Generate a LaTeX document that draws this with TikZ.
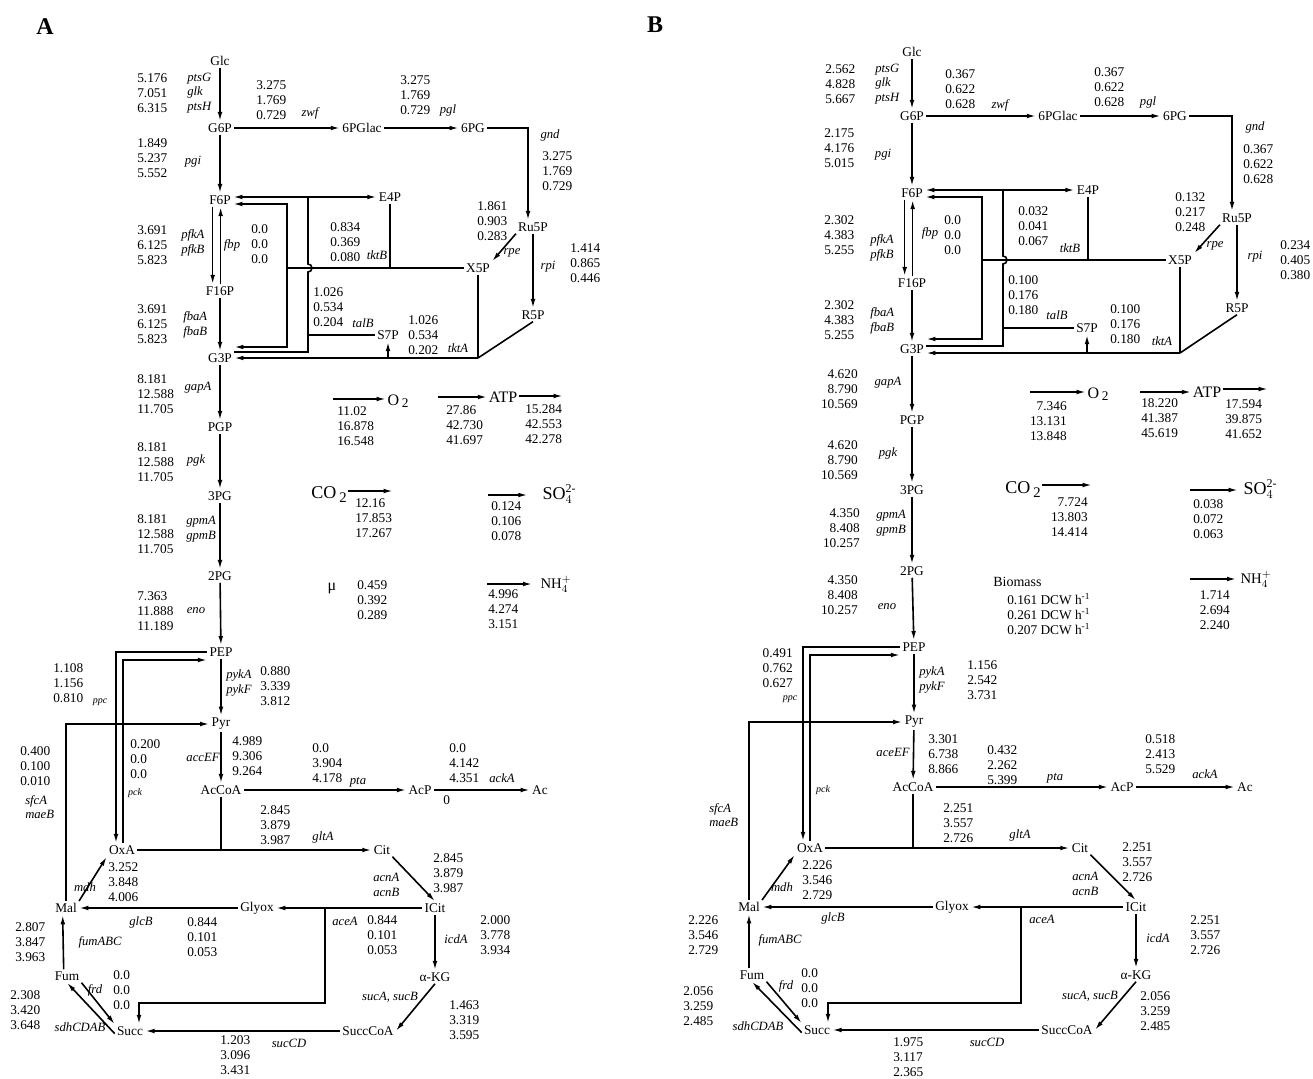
\documentclass[tikz,border=0pt]{standalone}
\usepackage{fontspec}
\setmainfont{Liberation Serif}
\usepackage{tikz}
\usetikzlibrary{arrows.meta,positioning,calc}

\begin{document}
\begin{tikzpicture}[
    x=0.75pt, y=-0.75pt,
    met/.style={font=\fontsize{10}{12}\selectfont, inner sep=1.5pt},
    num/.style={font=\fontsize{10}{11.25}\selectfont, align=left, anchor=west, inner sep=0pt},
    numr/.style={num, align=right, anchor=east},
    gene/.style={font=\fontsize{9.5}{11}\selectfont\itshape, inner sep=0pt},
    genes/.style={gene, align=left, anchor=west},
    tinygene/.style={font=\fontsize{7.5}{9}\selectfont\itshape, inner sep=0pt},
    ext/.style={font=\fontsize{12}{14}\selectfont, inner sep=1pt},
    panel/.style={font=\fontsize{18}{20}\selectfont\bfseries},
    flux/.style={-{Latex[length=7pt,width=3.5pt]}, line width=1.2pt},
    twoway/.style={{Latex[length=7pt,width=3.5pt]}-{Latex[length=7pt,width=3.5pt]}, line width=1.2pt},
    link/.style={line width=1.2pt}
]
\useasboundingbox (0,0) rectangle (1313,1078);

% ================= panel A =================
\node[panel] (labA) at (45,27) {A};
\begin{scope}[name prefix=a-]
% metabolites
\node[met] (Glc) at (220,61) {Glc};
\node[met] (G6P) at (220,128) {G6P};
\node[met] (PGlac) at (362,128) {6PGlac};
\node[met] (PG6) at (473,128) {6PG};
\node[met] (Ru5P) at (533,227) {Ru5P};
\node[met] (X5P) at (478,268) {X5P};
\node[met] (R5P) at (533,315) {R5P};
\node[met] (E4P) at (390,197) {E4P};
\node[met] (S7P) at (388,335) {S7P};
\node[met] (F6P) at (220,200) {F6P};
\node[met] (F16P) at (220,291) {F16P};
\node[met] (G3P) at (220,358) {G3P};
\node[met] (PGP) at (220,427) {PGP};
\node[met] (PG3) at (220,496) {3PG};
\node[met] (PG2) at (220,576) {2PG};
\node[met] (PEP) at (221,652) {PEP};
\node[met] (Pyr) at (221,724) {Pyr};
\node[met] (AcCoA) at (221,790) {AcCoA};
\node[met] (AcP) at (420,790) {AcP};
\node[met] (Ac) at (540,790) {Ac};
\node[met] (OxA) at (122,850) {OxA};
\node[met] (Cit) at (382,850) {Cit};
\node[met] (ICit) at (435,908) {ICit};
\node[met] (aKG) at (435,977) {α-KG};
\node[met] (SuccCoA) at (368,1031) {SuccCoA};
\node[met] (Succ) at (130,1031) {Succ};
\node[met] (Fum) at (67,976) {Fum};
\node[met] (Mal) at (66,908) {Mal};
\node[met] (Glyox) at (257,908) {Glyox};
\coordinate (tkB) at (287,268);
\coordinate (tlB) at (308,197);
\coordinate (tkA) at (478,358);
\coordinate (ppcC) at (116,652);
\coordinate (pckC) at (123,660);
\coordinate (aceC) at (325,908);
\coordinate (aceD) at (325,1003);

% glycolysis and pentose phosphate
\draw[flux] (Glc) -- (G6P);
\draw[flux] (G6P) -- (PGlac);
\draw[flux] (PGlac) -- (PG6);
\draw[flux] (PG6.east) -| ([xshift=-3.75pt]Ru5P.north);
\draw[flux] (Ru5P.south west) -- (X5P.north east);
\draw[flux] (Ru5P) -- (R5P);
\draw[flux] (G6P) -- (F6P);
\draw[flux] ([xshift=-5.5pt]F6P.south) -- ([xshift=-5.5pt]F16P.north);
\draw[flux] ([xshift=0.5pt]F16P.north) -- ([xshift=0.5pt]F6P.south);
\draw[flux] (F16P) -- (G3P);
\draw[twoway] ([yshift=2.25pt]F6P.east) -- (E4P.west);
\draw[twoway] ([yshift=-3pt]F6P.east) -| (tkB) |- ([yshift=8.25pt]G3P.east);
\draw[link] (tkB) -- (X5P.west);
\draw[link] (E4P.south) -- (E4P.south |- tkB);
\draw[link] (tlB) -- ++(0,67) arc[start angle=90,end angle=-90,radius=3pt] |- ([yshift=4.5pt]G3P.east);
\draw[link] (S7P.west -| tlB) -- (S7P.west);
\draw[link] (X5P.south) -- (tkA);
\draw[link] (R5P.south) -- (tkA);
\draw[flux] (tkA) -- (tkA -| G3P.east);
\draw[flux] (S7P.south |- tkA) -- (S7P.south);
\draw[flux] (G3P) -- (PGP);
\draw[flux] (PGP) -- (PG3);
\draw[flux] (PG3) -- (PG2);
\draw[flux] (PG2) -- (PEP);
\draw[flux] (PEP) -- (Pyr);
\draw[flux] (Pyr) -- (AcCoA);
\draw[flux] (PEP.west) -- (ppcC) -- (ppcC |- OxA.north);
\draw[flux] (pckC |- OxA.north) -- (pckC) -- (pckC -| PEP.west);
\draw[flux] (Mal.north) |- (Pyr.west);
% acetate and TCA cycle
\draw[flux] (AcCoA.east) -- (AcP.west);
\draw[flux] (AcP.east) -- (Ac.west);
\draw[link] (AcCoA.south) -- (AcCoA.south |- OxA.east);
\draw[flux] (OxA.east) -- (Cit.west);
\draw[flux] (Cit.south east) -- (ICit.north);
\draw[flux] (ICit.west) -- (Glyox.east);
\draw[flux] (aceC) -- (aceD) -| ([xshift=6.75pt]Succ.north);
\draw[flux] (Glyox.west) -- (Mal.east);
\draw[flux] (Mal.north east) -- (OxA.south west);
\draw[flux] (ICit) -- (aKG);
\draw[flux] (aKG.south) -- (SuccCoA.east);
\draw[flux] (SuccCoA.west) -- (Succ.east);
\draw[flux] ([xshift=-2.5pt]Fum.north) -- ([xshift=-2.5pt]Mal.south);
\draw[flux] (Fum.south east) -- (Succ.north west);
\draw[flux] ([yshift=-2pt]Succ.west) -- (Fum.south);

% fluxes and genes
\node[num] (vPts) at (137,93) {5.176\\7.051\\6.315};
\node[genes] (gPts) at (187,93) {ptsG\\glk\\ptsH};
\node[num] (vZwf) at (256,100) {3.275\\1.769\\0.729};
\node[gene] (gZwf) at (310,113) {zwf};
\node[num] (vPgl) at (400,95) {3.275\\1.769\\0.729};
\node[gene] (gPgl) at (448,110) {pgl};
\node[gene] (gGnd) at (550,135) {gnd};
\node[num] (vGnd) at (542,171) {3.275\\1.769\\0.729};
\node[num] (vRpe) at (477,221) {1.861\\0.903\\0.283};
\node[gene] (gRpe) at (512,253) {rpe};
\node[gene] (gRpi) at (548,267) {rpi};
\node[num] (vRpi) at (570,263) {1.414\\0.865\\0.446};
\node[num] (vPgi) at (137,158) {1.849\\5.237\\5.552};
\node[gene] (gPgi) at (193,162) {pgi};
\node[num] (vPfk) at (137,245) {3.691\\6.125\\5.823};
\node[genes] (gPfk) at (181,243) {pfkA\\pfkB};
\node[gene] (gFbp) at (232,245) {fbp};
\node[num] (vFbp) at (251,244) {0.0\\0.0\\0.0};
\node[num] (vTktB) at (330,242) {0.834\\0.369\\0.080};
\node[gene] (gTktB) at (377,255) {tktB};
\node[num] (vTalB) at (313,307) {1.026\\0.534\\0.204};
\node[gene] (gTalB) at (363,323) {talB};
\node[num] (vTktA) at (408,335) {1.026\\0.534\\0.202};
\node[gene] (gTktA) at (458,348) {tktA};
\node[num] (vFba) at (137,324) {3.691\\6.125\\5.823};
\node[genes] (gFba) at (183,325) {fbaA\\fbaB};
\node[num] (vGap) at (137,394) {8.181\\12.588\\11.705};
\node[gene] (gGap) at (198,388) {gapA};
\node[num] (vPgk) at (137,462) {8.181\\12.588\\11.705};
\node[gene] (gPgk) at (196,460) {pgk};
\node[num] (vGpm) at (137,534) {8.181\\12.588\\11.705};
\node[genes] (gGpm) at (186,529) {gpmA\\gpmB};
\node[num] (vEno) at (137,611) {7.363\\11.888\\11.189};
\node[gene] (gEno) at (196,611) {eno};
\node[num] (vPpc) at (53,683) {1.108\\1.156\\0.810};
\node[tinygene] (gPpc) at (100,702) {ppc};
\node[genes] (gPyk) at (226,683) {pykA\\pykF};
\node[num] (vPyk) at (260,686) {0.880\\3.339\\3.812};
\node[num] (vMae) at (20,766) {0.400\\0.100\\0.010};
\node[genes] (gMae) at (25,807) {sfcA\\maeB};
\node[num] (vPck) at (130,759) {0.200\\0.0\\0.0};
\node[tinygene] (gPck) at (135,793) {pck};
\node[gene] (gAce) at (203,757) {accEF};
\node[num] (vAce) at (232,756) {4.989\\9.306\\9.264};
\node[num] (vPta) at (312,763) {0.0\\3.904\\4.178};
\node[gene] (gPta) at (358,782) {pta};
\node[num] (vAck) at (449,763) {0.0\\4.142\\4.351};
\node[gene] (gAck) at (502,778) {ackA};
\node[num] (vZero) at (443,800) {0};
\node[num] (vGlt) at (260,825) {2.845\\3.879\\3.987};
\node[gene] (gGlt) at (323,837) {gltA};
\node[num] (vMdh) at (108,882) {3.252\\3.848\\4.006};
\node[gene] (gMdh) at (85,887) {mdh};
\node[gene] (gGlcB) at (141,922) {glcB};
\node[num] (vGlcB) at (187,937) {0.844\\0.101\\0.053};
\node[gene] (gAceA) at (345,921) {aceA};
\node[num] (vAceA) at (367,935) {0.844\\0.101\\0.053};
\node[num] (vAcn) at (433,873) {2.845\\3.879\\3.987};
\node[genes] (gAcn) at (373,885) {acnA\\acnB};
\node[gene] (gIcd) at (456,939) {icdA};
\node[num] (vIcd) at (480,935) {2.000\\3.778\\3.934};
\node[gene] (gSucAB) at (390,997) {sucA, sucB};
\node[num] (vSucAB) at (449,1020) {1.463\\3.319\\3.595};
\node[gene] (gSucCD) at (289,1043) {sucCD};
\node[num] (vSucCD) at (220,1055) {1.203\\3.096\\3.431};
\node[num] (vFum) at (15,942) {2.807\\3.847\\3.963};
\node[gene] (gFum) at (100,942) {fumABC};
\node[gene] (gFrd) at (95,990) {frd};
\node[num] (vFrd) at (113,990) {0.0\\0.0\\0.0};
\node[num] (vSdh) at (10,1010) {2.308\\3.420\\3.648};
\node[gene] (gSdh) at (80,1027) {sdhCDAB};

% exchange fluxes
\coordinate (o2in) at (333,399);
\node[ext, anchor=west] (O2) at (386,401) {O\,\raisebox{-1.5pt}{\fontsize{10}{12}\selectfont 2}};
\draw[flux] (o2in) -- (o2in -| O2.west);
\node[num] (vO2) at (337,426) {11.02\\16.878\\16.548};
\coordinate (atpin) at (438,397);
\coordinate (atpout) at (563,396);
\node[ext] (ATP) at (503,397) {ATP};
\draw[flux] (atpin) -- (atpin -| ATP.west);
\draw[flux] (ATP.east |- atpout) -- (atpout);
\node[num] (vAtpIn) at (446,425) {27.86\\42.730\\41.697};
\node[num] (vAtpOut) at (525,424) {15.284\\42.553\\42.278};
\coordinate (co2out) at (393,491);
\node[ext, font=\fontsize{13.5}{15}\selectfont] (CO2) at (329,495) {CO\,\raisebox{-3pt}{\fontsize{11}{12}\selectfont 2}};
\draw[flux] (CO2.east |- co2out) -- (co2out);
\node[num] (vCO2) at (355,518) {12.16\\17.853\\17.267};
\coordinate (so4in) at (488,495);
\node[ext, anchor=west, font=\fontsize{13.5}{15}\selectfont] (SO4) at (541,494) {SO$_4^{\mbox{\fontsize{9}{10}\selectfont 2-}}$};
\draw[flux, shorten >=10pt] (so4in) -- (so4in -| SO4.west);
\node[num] (vSO4) at (491,521) {0.124\\0.106\\0.078};
\node[ext] (mu) at (332,589) {μ};
\node[num] (vMu) at (357,600) {0.459\\0.392\\0.289};
\coordinate (nh4in) at (487,584);
\node[ext, anchor=west, font=\fontsize{11}{13}\selectfont] (NH4) at (539,584) {NH$_4^{+}$};
\draw[flux, shorten >=5pt] (nh4in) -- (nh4in -| NH4.west);
\node[num] (vNH4) at (488,609) {4.996\\4.274\\3.151};
\end{scope}

% ================= panel B =================
\node[panel] (labB) at (655,25) {B};
\begin{scope}[name prefix=b-]
% metabolites
\node[met] (Glc) at (912,52) {Glc};
\node[met] (G6P) at (912,116) {G6P};
\node[met] (PGlac) at (1058,116) {6PGlac};
\node[met] (PG6) at (1175,116) {6PG};
\node[met] (Ru5P) at (1237,218) {Ru5P};
\node[met] (X5P) at (1180,260) {X5P};
\node[met] (R5P) at (1237,308) {R5P};
\node[met] (E4P) at (1088,190) {E4P};
\node[met] (S7P) at (1087,328) {S7P};
\node[met] (F6P) at (912,193) {F6P};
\node[met] (F16P) at (912,283) {F16P};
\node[met] (G3P) at (912,349) {G3P};
\node[met] (PGP) at (912,420) {PGP};
\node[met] (PG3) at (912,490) {3PG};
\node[met] (PG2) at (912,571) {2PG};
\node[met] (PEP) at (914,647) {PEP};
\node[met] (Pyr) at (914,722) {Pyr};
\node[met] (AcCoA) at (913,787) {AcCoA};
\node[met] (AcP) at (1122,787) {AcP};
\node[met] (Ac) at (1245,787) {Ac};
\node[met] (OxA) at (810,848) {OxA};
\node[met] (Cit) at (1080,848) {Cit};
\node[met] (ICit) at (1136,907) {ICit};
\node[met] (aKG) at (1136,975) {α-KG};
\node[met] (SuccCoA) at (1067,1030) {SuccCoA};
\node[met] (Succ) at (817,1030) {Succ};
\node[met] (Fum) at (752,975) {Fum};
\node[met] (Mal) at (749,907) {Mal};
\node[met] (Glyox) at (952,907) {Glyox};
\coordinate (tkB) at (982,260);
\coordinate (tlB) at (1003,190);
\coordinate (tkA) at (1180,353);
\coordinate (ppcC) at (803,647);
\coordinate (pckC) at (810,655);
\coordinate (aceC) at (1021,907);
\coordinate (aceD) at (1021,1003);

% glycolysis and pentose phosphate
\draw[flux] (Glc) -- (G6P);
\draw[flux] (G6P) -- (PGlac);
\draw[flux] (PGlac) -- (PG6);
\draw[flux] (PG6.east) -| ([xshift=-3.75pt]Ru5P.north);
\draw[flux] (Ru5P.south west) -- (X5P.north east);
\draw[flux] (Ru5P) -- (R5P);
\draw[flux] (G6P) -- (F6P);
\draw[flux] ([xshift=-5.5pt]F6P.south) -- ([xshift=-5.5pt]F16P.north);
\draw[flux] ([xshift=0.5pt]F16P.north) -- ([xshift=0.5pt]F6P.south);
\draw[flux] (F16P) -- (G3P);
\draw[twoway] ([yshift=2.25pt]F6P.east) -- (E4P.west);
\draw[twoway] ([yshift=-3pt]F6P.east) -| (tkB) |- ([yshift=7.5pt]G3P.east);
\draw[link] (tkB) -- (X5P.west);
\draw[link] (E4P.south) -- (E4P.south |- tkB);
\draw[link] (tlB) -- ++(0,66) arc[start angle=90,end angle=-90,radius=3pt] |- ([yshift=2.25pt]G3P.east);
\draw[link] (S7P.west -| tlB) -- (S7P.west);
\draw[link] (X5P.south) -- (tkA);
\draw[link] (R5P.south) -- (tkA);
\draw[flux] (tkA) -- (tkA -| G3P.east);
\draw[flux] (S7P.south |- tkA) -- (S7P.south);
\draw[flux] (G3P) -- (PGP);
\draw[flux] (PGP) -- (PG3);
\draw[flux] (PG3) -- (PG2);
\draw[flux] (PG2) -- (PEP);
\draw[flux] (PEP) -- (Pyr);
\draw[flux] (Pyr) -- (AcCoA);
\draw[flux] (PEP.west) -- (ppcC) -- (ppcC |- OxA.north);
\draw[flux] (pckC |- OxA.north) -- (pckC) -- (pckC -| PEP.west);
\draw[flux] (Mal.north) |- (Pyr.west);
% acetate and TCA cycle
\draw[flux] (AcCoA.east) -- (AcP.west);
\draw[flux] (AcP.east) -- (Ac.west);
\draw[link] (AcCoA.south) -- (AcCoA.south |- OxA.east);
\draw[flux] (OxA.east) -- (Cit.west);
\draw[flux] (Cit.south east) -- (ICit.north);
\draw[flux] (ICit.west) -- (Glyox.east);
\draw[flux] (aceC) -- (aceD) -| ([xshift=8.25pt]Succ.north);
\draw[flux] (Glyox.west) -- (Mal.east);
\draw[flux] (Mal.north east) -- (OxA.south west);
\draw[flux] (ICit) -- (aKG);
\draw[flux] (aKG.south) -- (SuccCoA.east);
\draw[flux] (SuccCoA.west) -- (Succ.east);
\draw[flux] (Fum.north -| Mal.south) -- (Mal.south);
\draw[flux] (Fum.south east) -- (Succ.north west);
\draw[flux] ([yshift=-2pt]Succ.west) -- (Fum.south);

% fluxes and genes
\node[num] (vPts) at (825,84) {2.562\\4.828\\5.667};
\node[genes] (gPts) at (875,84) {ptsG\\glk\\ptsH};
\node[num] (vZwf) at (945,89) {0.367\\0.622\\0.628};
\node[gene] (gZwf) at (1000,105) {zwf};
\node[num] (vPgl) at (1094,87) {0.367\\0.622\\0.628};
\node[gene] (gPgl) at (1148,102) {pgl};
\node[gene] (gGnd) at (1255,127) {gnd};
\node[num] (vGnd) at (1243,164) {0.367\\0.622\\0.628};
\node[num] (vRpe) at (1175,212) {0.132\\0.217\\0.248};
\node[gene] (gRpe) at (1215,246) {rpe};
\node[gene] (gRpi) at (1255,257) {rpi};
\node[num] (vRpi) at (1280,260) {0.234\\0.405\\0.380};
\node[num] (vPgi) at (824,148) {2.175\\4.176\\5.015};
\node[gene] (gPgi) at (883,155) {pgi};
\node[num] (vPfk) at (824,235) {2.302\\4.383\\5.255};
\node[genes] (gPfk) at (870,248) {pfkA\\pfkB};
\node[gene] (gFbp) at (930,233) {fbp};
\node[num] (vFbp) at (944,235) {0.0\\0.0\\0.0};
\node[num] (vTktB) at (1018,226) {0.032\\0.041\\0.067};
\node[gene] (gTktB) at (1070,248) {tktB};
\node[num] (vTalB) at (1008,295) {0.100\\0.176\\0.180};
\node[gene] (gTalB) at (1057,315) {talB};
\node[num] (vTktA) at (1110,324) {0.100\\0.176\\0.180};
\node[gene] (gTktA) at (1162,341) {tktA};
\node[num] (vFba) at (824,320) {2.302\\4.383\\5.255};
\node[genes] (gFba) at (870,321) {fbaA\\fbaB};
\node[numr] (vGap) at (858,389) {4.620\\8.790\\10.569};
\node[gene] (gGap) at (888,383) {gapA};
\node[numr] (vPgk) at (858,460) {4.620\\8.790\\10.569};
\node[gene] (gPgk) at (888,453) {pgk};
\node[numr] (vGpm) at (860,528) {4.350\\8.408\\10.257};
\node[genes] (gGpm) at (876,523) {gpmA\\gpmB};
\node[numr] (vEno) at (858,595) {4.350\\8.408\\10.257};
\node[gene] (gEno) at (887,607) {eno};
\node[numr] (vPpc) at (793,668) {0.491\\0.762\\0.627};
\node[tinygene] (gPpc) at (790,699) {ppc};
\node[genes] (gPyk) at (919,680) {pykA\\pykF};
\node[num] (vPyk) at (967,680) {1.156\\2.542\\3.731};
\node[genes] (gMae) at (709,815) {sfcA\\maeB};
\node[tinygene] (gPck) at (823,790) {pck};
\node[gene] (gAce) at (893,752) {aceEF};
\node[num] (vAce) at (928,754) {3.301\\6.738\\8.866};
\node[num] (vPta) at (987,765) {0.432\\2.262\\5.399};
\node[gene] (gPta) at (1055,778) {pta};
\node[num] (vAck) at (1145,754) {0.518\\2.413\\5.529};
\node[gene] (gAck) at (1205,774) {ackA};
\node[num] (vGlt) at (943,823) {2.251\\3.557\\2.726};
\node[gene] (gGlt) at (1020,835) {gltA};
\node[num] (vMdh) at (802,880) {2.226\\3.546\\2.729};
\node[gene] (gMdh) at (782,887) {mdh};
\node[gene] (gGlcB) at (833,918) {glcB};
\node[gene] (gAceA) at (1042,919) {aceA};
\node[num] (vAcn) at (1122,862) {2.251\\3.557\\2.726};
\node[genes] (gAcn) at (1072,884) {acnA\\acnB};
\node[gene] (gIcd) at (1158,938) {icdA};
\node[num] (vIcd) at (1190,935) {2.251\\3.557\\2.726};
\node[gene] (gSucAB) at (1090,996) {sucA, sucB};
\node[num] (vSucAB) at (1140,1011) {2.056\\3.259\\2.485};
\node[gene] (gSucCD) at (987,1042) {sucCD};
\node[num] (vSucCD) at (893,1057) {1.975\\3.117\\2.365};
\node[num] (vFum) at (688,935) {2.226\\3.546\\2.729};
\node[gene] (gFum) at (780,940) {fumABC};
\node[gene] (gFrd) at (786,986) {frd};
\node[num] (vFrd) at (801,988) {0.0\\0.0\\0.0};
\node[num] (vSdh) at (683,1006) {2.056\\3.259\\2.485};
\node[gene] (gSdh) at (758,1026) {sdhCDAB};

% exchange fluxes
\coordinate (o2in) at (1030,392);
\node[ext, anchor=west] (O2) at (1086,394) {O\,\raisebox{-1.5pt}{\fontsize{10}{12}\selectfont 2}};
\draw[flux] (o2in) -- (o2in -| O2.west);
\node[numr] (vO2) at (1067,421) {7.346\\13.131\\13.848};
\coordinate (atpin) at (1140,392);
\coordinate (atpout) at (1268,389);
\node[ext] (ATP) at (1207,392) {ATP};
\draw[flux] (atpin) -- (atpin -| ATP.west);
\draw[flux] (ATP.east |- atpout) -- (atpout);
\node[num] (vAtpIn) at (1141,418) {18.220\\41.387\\45.619};
\node[num] (vAtpOut) at (1225,419) {17.594\\39.875\\41.652};
\coordinate (co2out) at (1092,485);
\node[ext, font=\fontsize{13.5}{15}\selectfont] (CO2) at (1023,490) {CO\,\raisebox{-3pt}{\fontsize{11}{12}\selectfont 2}};
\draw[flux] (CO2.east |- co2out) -- (co2out);
\node[numr] (vCO2) at (1088,517) {7.724\\13.803\\14.414};
\coordinate (so4in) at (1190,490);
\node[ext, anchor=west, font=\fontsize{13.5}{15}\selectfont] (SO4) at (1242,489) {SO$_4^{\mbox{\fontsize{9}{10}\selectfont 2-}}$};
\draw[flux, shorten >=3pt] (so4in) -- (so4in -| SO4.west);
\node[num] (vSO4) at (1193,519) {0.038\\0.072\\0.063};
\node[num, font=\fontsize{10.5}{12}\selectfont] (Bio) at (993,582) {Biomass};
\node[num] (vBio) at (1007,614) {0.161 DCW h\textsuperscript{-1}\\0.261 DCW h\textsuperscript{-1}\\0.207 DCW h\textsuperscript{-1}};
\coordinate (nh4in) at (1190,579);
\node[ext, anchor=west, font=\fontsize{11}{13}\selectfont] (NH4) at (1239,579) {NH$_4^{+}$};
\draw[flux, shorten >=2pt] (nh4in) -- (nh4in -| NH4.west);
\node[numr] (vNH4) at (1230,610) {1.714\\2.694\\2.240};
\end{scope}
\end{tikzpicture}
\end{document}
